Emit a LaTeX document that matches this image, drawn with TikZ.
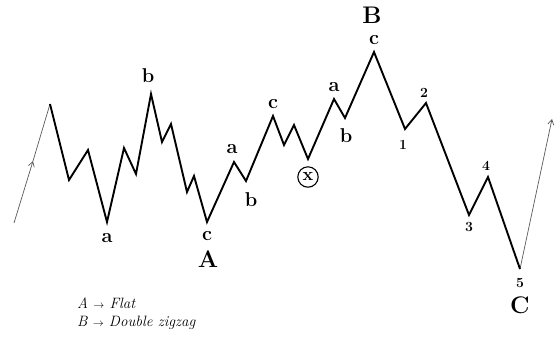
\documentclass[tikz,border=0pt]{standalone}
\usepackage{fontspec}
\usetikzlibrary{arrows.meta}
\begin{document}
\begin{tikzpicture}[x=1pt,y=-1pt,
  wave/.style={line width=1.9pt,line join=miter},
  trend/.style={gray!70!black,line width=0.7pt,-{Straight Barb[length=5pt,width=6pt]}},
  lbl/.style={font=\fontsize{20}{20}\selectfont\bfseries,inner sep=0pt},
  big/.style={font=\fontsize{24}{24}\selectfont\bfseries,inner sep=0pt},
  num/.style={font=\fontsize{14}{14}\selectfont\bfseries,inner sep=0pt},
  legend/.style={font=\fontsize{15}{15}\selectfont\itshape,anchor=west,inner sep=0pt}]
\useasboundingbox (0,0) rectangle (558,338);
\coordinate (s0) at (14,223);
\coordinate (w0) at (50,104);
\coordinate (w1) at (69,180);
\coordinate (w2) at (88,150);
\coordinate (w3) at (107,222);
\coordinate (w4) at (124,148);
\coordinate (w5) at (136,174);
\coordinate (w6) at (151,94);
\coordinate (w7) at (162,142);
\coordinate (w8) at (171,124);
\coordinate (w9) at (187,192);
\coordinate (w10) at (194,176);
\coordinate (w11) at (207,222);
\coordinate (w12) at (234,162);
\coordinate (w13) at (246,181);
\coordinate (w14) at (273,116);
\coordinate (w15) at (284,145);
\coordinate (w16) at (294,125);
\coordinate (w17) at (308,159);
\coordinate (w18) at (334,99);
\coordinate (w19) at (345,118);
\coordinate (w20) at (374,52);
\coordinate (w21) at (405,129);
\coordinate (w22) at (426,103);
\coordinate (w23) at (469,215);
\coordinate (w24) at (488,177);
\coordinate (w25) at (520,269);
\coordinate (e0) at (552,119);
\coordinate (sm) at (33,161);
\draw[trend] (s0) -- (sm);
\draw[trend,-] (sm) -- (w0);
\draw[trend] (w25) -- (e0);
\draw[wave] (w0) -- (w1) -- (w2) -- (w3) -- (w4) -- (w5) -- (w6) -- (w7) -- (w8)
  -- (w9) -- (w10) -- (w11) -- (w12) -- (w13) -- (w14) -- (w15) -- (w16) -- (w17)
  -- (w18) -- (w19) -- (w20) -- (w21) -- (w22) -- (w23) -- (w24) -- (w25);
\node[lbl] (la1) at (107,238) {a};
\node[lbl] (lb1) at (148,76) {b};
\node[lbl] (lc1) at (207,236) {c};
\node[big] (lA) at (208,259) {A};
\node[lbl] (la2) at (232,149) {a};
\node[lbl] (lb2) at (251,200) {b};
\node[lbl] (lc2) at (273,104) {c};
\node[lbl,draw,circle,line width=1.1pt,inner sep=2.5pt,font=\fontsize{18}{18}\selectfont\bfseries] (lx) at (308,177) {x};
\node[lbl] (la3) at (334,87) {a};
\node[lbl] (lb3) at (346,136) {b};
\node[lbl] (lc3) at (374,40) {c};
\node[big] (lB) at (372,15) {B};
\node[num] (n1) at (403,145) {1};
\node[num] (n2) at (424,93) {2};
\node[num] (n3) at (469,227) {3};
\node[num] (n4) at (486,166) {4};
\node[num] (n5) at (520,283) {5};
\node[big] (lC) at (520,305) {C};
\node[legend] (lg1) at (77,303) {A ${\scriptstyle\rightarrow}$ Flat};
\node[legend] (lg2) at (77,323) {B ${\scriptstyle\rightarrow}$ Double zigzag};
\end{tikzpicture}
\end{document}
